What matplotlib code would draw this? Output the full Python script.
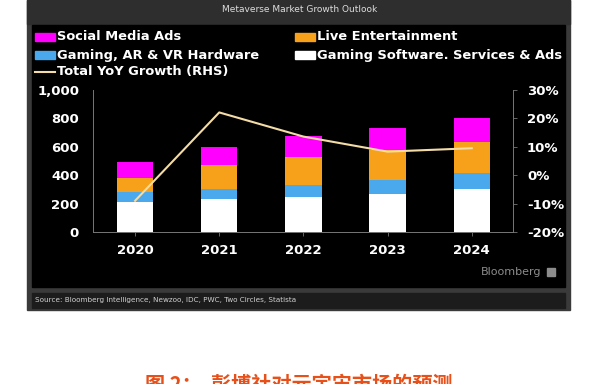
import matplotlib.pyplot as plt
from matplotlib.patches import Rectangle
import numpy as np

years = ["2020", "2021", "2022", "2023", "2024"]
gaming_software = [213, 232, 249, 268, 300]
hardware = [67, 71, 82, 98, 113]
live_ent = [98, 169, 199, 211, 219]
social_ads = [117, 129, 148, 153, 168]
yoy_growth = [-9.0, 22.1, 13.6, 8.3, 9.5]

left_ticks = [0, 200, 400, 600, 800, 1000]
right_ticks = [-20, -10, 0, 10, 20, 30]

W, H = 600, 384
fig = plt.figure(figsize=(6, 3.84), dpi=100, facecolor="white")


def box(x0, y0, x1, y1, color):
    # rectangle in pixel coords, y measured from the top
    fig.patches.append(Rectangle((x0 / W, 1 - y1 / H), (x1 - x0) / W, (y1 - y0) / H,
                                 transform=fig.transFigure, color=color, zorder=-5))


# Bloomberg frame
box(27, 0, 570, 310, "#3a3a3a")
box(27, 0, 570, 24, "#2e2e2e")
box(32, 25, 565, 287, "#000000")
box(32, 293, 565, 308, "#1c1c1c")

fig.text(300 / W, 1 - 9 / H, "Metaverse Market Growth Outlook", color="#dddddd",
         fontsize=6.5, ha="center", va="center")
fig.text(35 / W, 1 - 300 / H,
         "Source: Bloomberg Intelligence, Newzoo, IDC, PWC, Two Circles, Statista",
         color="#d0d0d0", fontsize=5.2, ha="left", va="center")
fig.text(541 / W, 1 - 272 / H, "Bloomberg", color="#8c8c8c", fontsize=8,
         ha="right", va="center")
box(547, 268, 555, 276, "#8c8c8c")

# legend drawn by hand to match the two-column layout
legend_items = [
    ("Social Media Ads", "#ff00ff", 35, 37),
    ("Live Entertainment", "#f7a11a", 295, 37),
    ("Gaming, AR & VR Hardware", "#4aa8ec", 35, 55),
    ("Gaming Software. Services & Ads", "#ffffff", 295, 55),
]
for label, color, lx, ly in legend_items:
    box(lx, ly - 4, lx + 20, ly + 4, color)
    fig.text((lx + 22) / W, 1 - ly / H, label, color="white", fontsize=9.4,
             fontweight="bold", ha="left", va="center")
fig.lines.append(plt.Line2D([35 / W, 55 / W], [1 - 72 / H, 1 - 72 / H],
                            transform=fig.transFigure, color="#f3dca6", lw=1.5))
fig.text(57 / W, 1 - 72 / H, "Total YoY Growth (RHS)", color="white", fontsize=9.4,
         fontweight="bold", ha="left", va="center")

# main axes
ax = fig.add_axes([93 / W, 1 - 232 / H, 420 / W, 142 / H])
ax.set_facecolor("none")
x = np.arange(len(years))
bw = 0.43
bottom = np.zeros(len(years))
for vals, color in [(gaming_software, "#ffffff"), (hardware, "#4aa8ec"),
                    (live_ent, "#f7a11a"), (social_ads, "#ff00ff")]:
    ax.bar(x, vals, bw, bottom=bottom, color=color, zorder=2)
    bottom += np.array(vals)

ax.set_xlim(-0.5, 4.49)
ax.set_ylim(0, 1000)
ax.set_xticks(x)
ax.set_xticklabels(years)
ax.set_yticks(left_ticks)
ax.set_yticklabels([f"{v:,}" for v in left_ticks])

ax2 = ax.twinx()
ax2.plot(x, yoy_growth, color="#f3dca6", lw=1.5, zorder=3)
ax2.set_ylim(-20, 30)
ax2.set_yticks(right_ticks)
ax2.set_yticklabels([f"{v}%" for v in right_ticks])

for a in (ax, ax2):
    for s in a.spines.values():
        s.set_visible(False)
    a.tick_params(colors="white", labelsize=9.5, length=3, width=0.6)
    for lab in a.get_xticklabels() + a.get_yticklabels():
        lab.set_fontweight("bold")
ax.spines["left"].set_visible(True)
ax.spines["bottom"].set_visible(True)
ax2.spines["right"].set_visible(True)
for s in (ax.spines["left"], ax.spines["bottom"], ax2.spines["right"]):
    s.set_color("#777777")
    s.set_linewidth(0.7)
ax.tick_params(axis="y", length=0, pad=10)
ax.tick_params(axis="x", color="#777777", pad=6, direction="out")
ax2.tick_params(axis="y", color="#777777", pad=7)

# caption below the screenshot (cut off at the bottom edge, as in the source)
fig.text(145 / W, 1 - 374 / H, "图 2：  彭博社对元宇宙市场的预测", color="#e8501a",
         fontsize=14.5, fontweight="bold", ha="left", va="top",
         family=["Noto Sans CJK SC", "DejaVu Sans"])

fig.savefig("out.png", dpi=100, facecolor="white")
